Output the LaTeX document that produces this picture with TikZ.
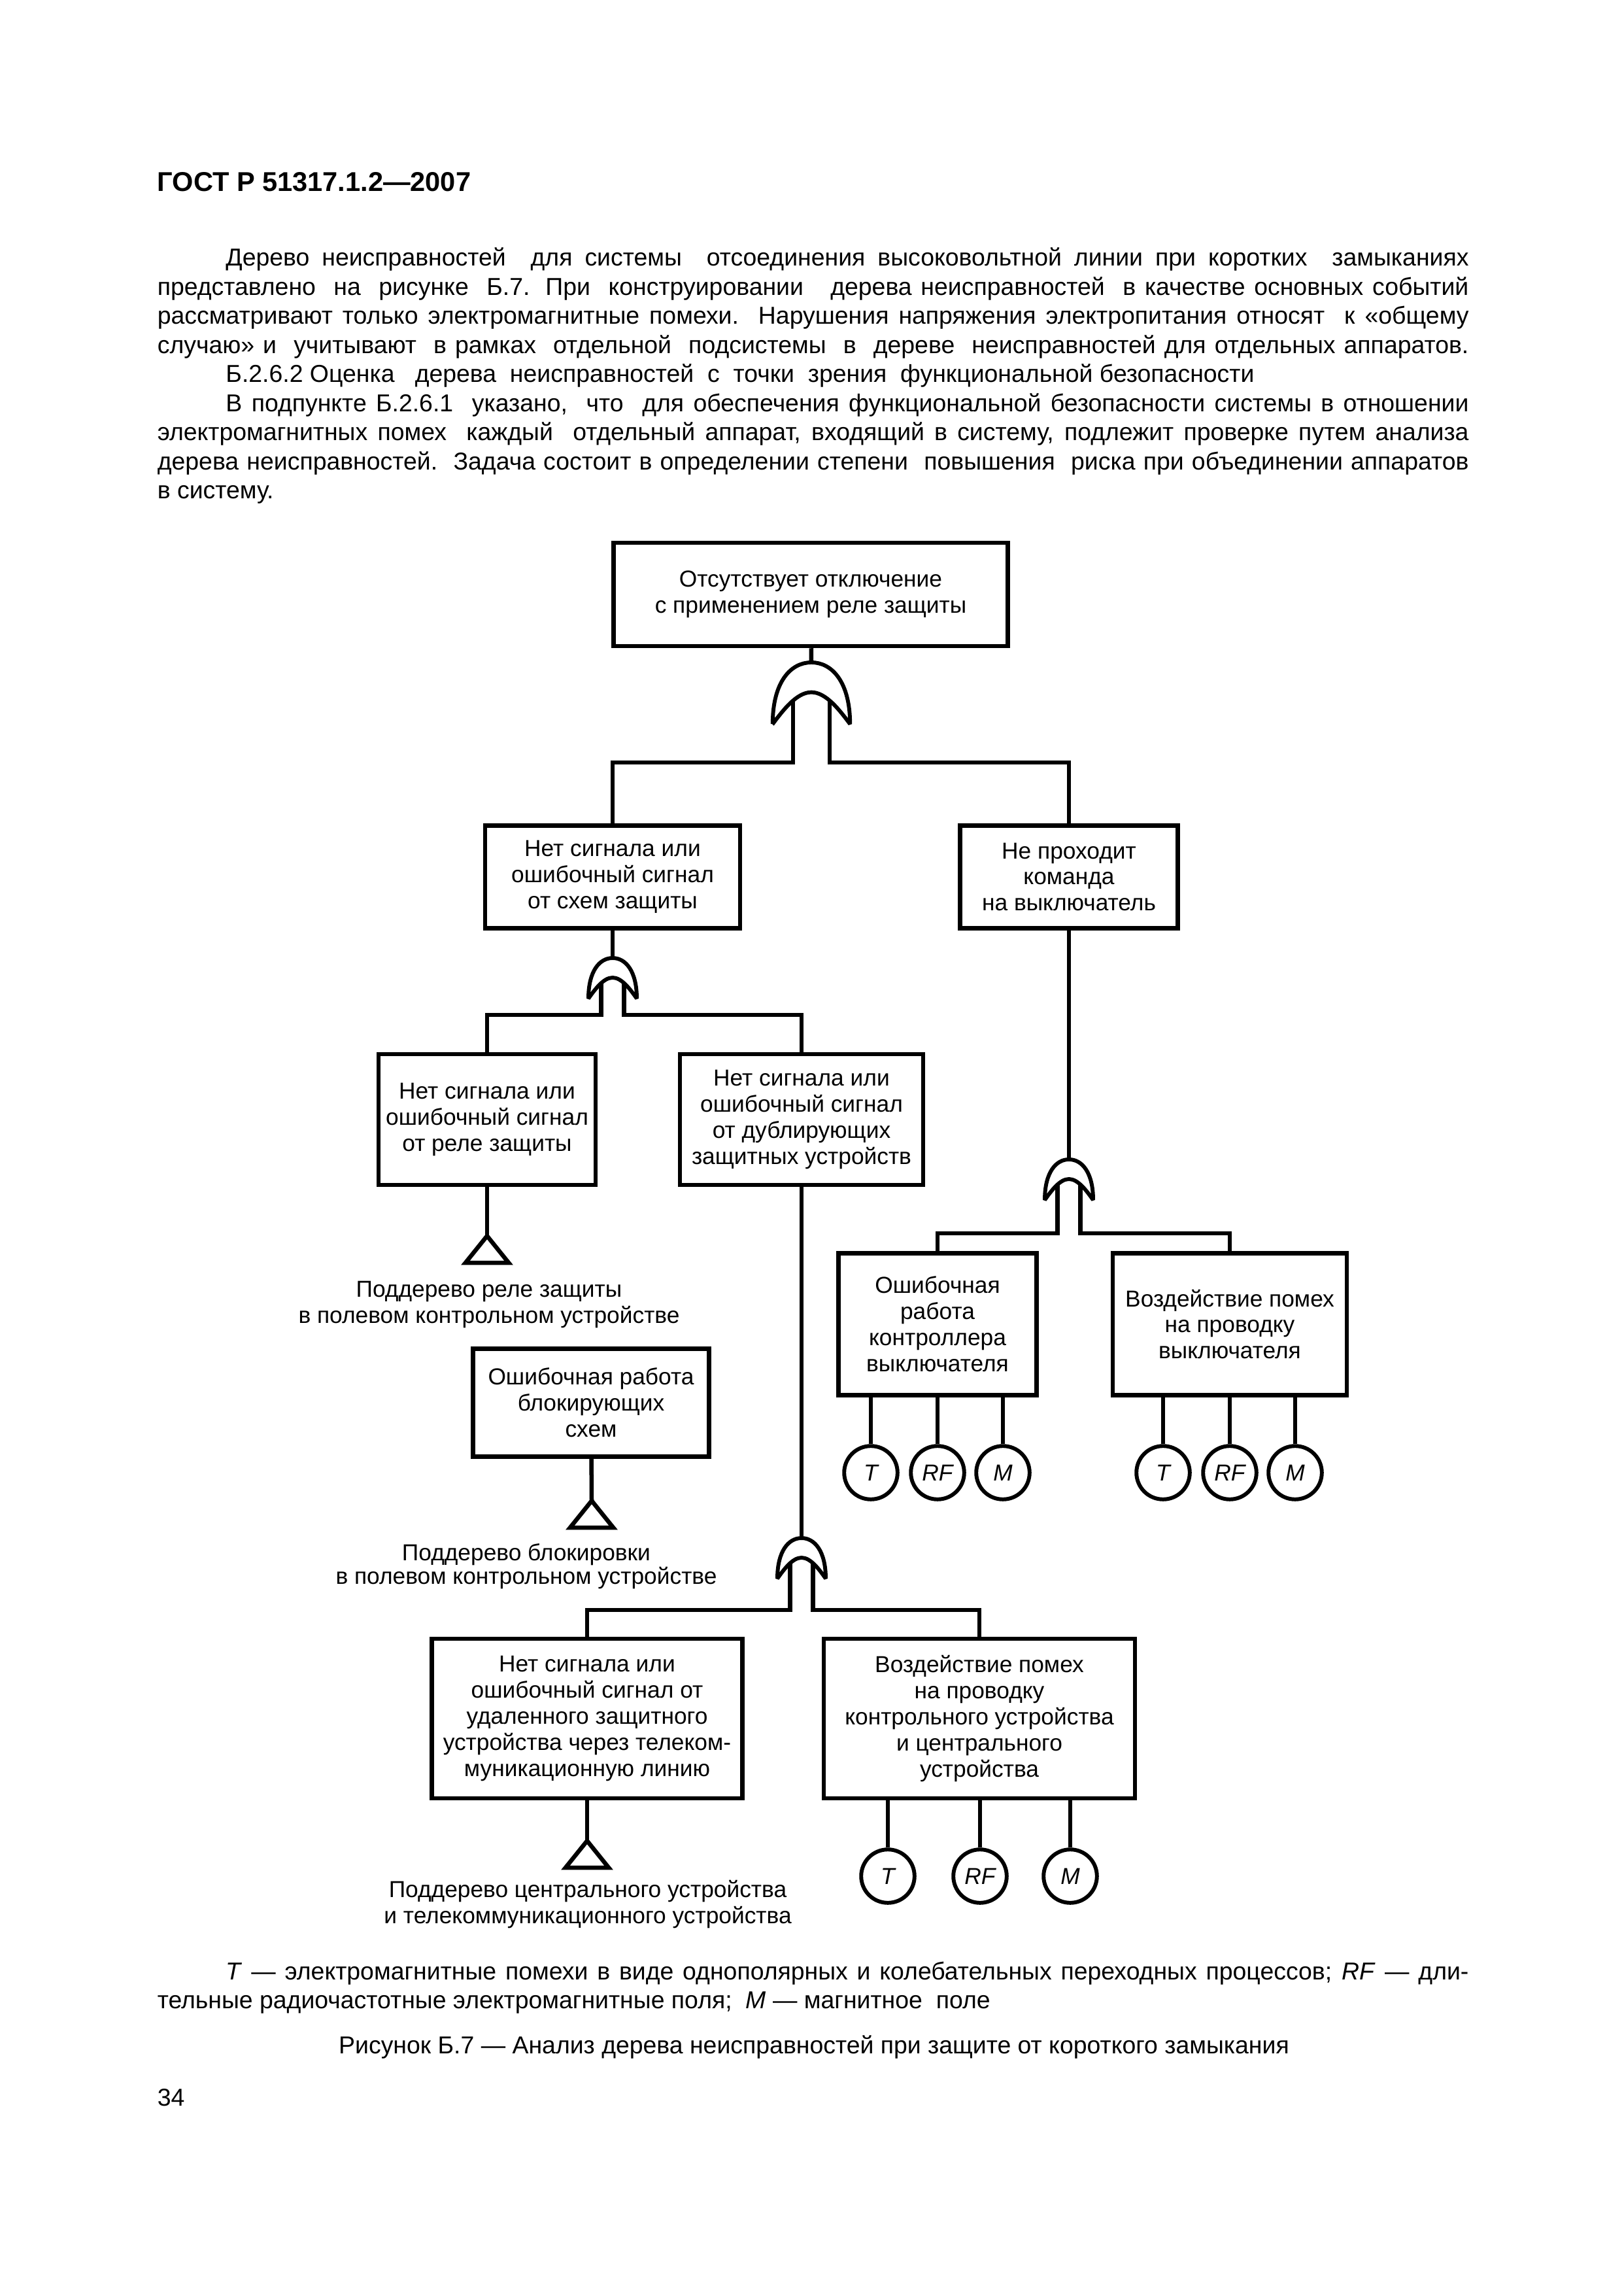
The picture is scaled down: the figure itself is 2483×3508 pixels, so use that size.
\documentclass[tikz,border=0pt]{standalone}
\usepackage{fontspec}
\setmainfont{Liberation Sans}
\hyphenpenalty=10000
\exhyphenpenalty=10000
\tolerance=10000
\newcommand\dgfont{\fontsize{8.5}{9.6}\selectfont}
\newcommand\txtfont{\fontsize{9}{10.7}\selectfont}
\newcommand\ind{\hspace*{8.85mm}}
\tikzset{
  box/.style={draw, line width=0.55mm, align=center, inner sep=0pt, font=\dgfont},
  wire/.style={line width=0.55mm},
  basic/.style={draw, circle, line width=0.5mm, minimum size=6.9mm, inner sep=0pt, font=\dgfont\itshape},
  lbl/.style={align=center, font=\dgfont},
  body/.style={text width=169.6mm, align=justify, inner sep=0pt, font=\txtfont},
  orgate/.pic={
    \draw[line width=0.5mm, line join=bevel] (-37,62) .. controls (-37,20) and (-20,0) .. (0,0)
      .. controls (20,0) and (37,20) .. (37,62)
      .. controls (27,48) and (14,30) .. (0,30)
      .. controls (-14,30) and (-27,48) .. cycle;
    \coordinate (-top) at (0,0);
    \coordinate (-l) at (-17.5,39);
    \coordinate (-r) at (17.5,39);
  },
  subtree/.pic={
    \draw[wire, line join=miter] (0,0) -- (-33,41) -- (33,41) -- cycle;
    \coordinate (-top) at (0,0);
  },
}

\begin{document}
\begin{tikzpicture}[x=0.08457mm,y=-0.08457mm]
\fill[white] (0,0) rectangle (2483,3508);

\node[anchor=base west, inner sep=0pt, font=\fontsize{10}{12}\selectfont\bfseries] (head) at (240,293) {ГОСТ Р 51317.1.2—2007};

\node[body, anchor=base west] (intro) at (240,407) {%
\ind Дерево неисправностей\ \ для системы\ \ отсоединения высоковольтной линии при коротких\ \ замыканиях\linebreak
представлено\ \ на\ \ рисунке\ \ Б.7. При\ \ конструировании\ \ \ дерева неисправностей\ \ в качестве основных событий\linebreak
рассматривают только электромагнитные помехи.\ \ Нарушения напряжения электропитания относят\ \ к «общему\linebreak
случаю» и\ \ учитывают\ \ в рамках\ \ отдельной\ \ подсистемы\ \ в\ \ дереве\ \ неисправностей для отдельных аппаратов.{\parfillskip=0pt\par}
\ind Б.2.6.2 Оценка\ \ \ дерева\ \ неисправностей\ \ с\ \ точки\ \ зрения\ \ функциональной безопасности\par
\ind В подпункте Б.2.6.1\ \ указано,\ \ что\ \ для обеспечения функциональной безопасности системы в отношении\linebreak
электромагнитных помех\ \ каждый\ \ отдельный аппарат, входящий в систему, подлежит проверке путем анализа\linebreak
дерева неисправностей.\ \ Задача состоит в определении степени\ \ повышения\ \ риска при объединении аппаратов\linebreak
в систему.};

\node[box, minimum width=51mm, minimum height=13.36mm] (root) at (1240,909) {Отсутствует отключение\\с применением реле защиты};
\node[box, minimum width=33mm, minimum height=13.28mm] (prot) at (937,1341) {Нет сигнала или\\ошибочный сигнал\\от схем защиты};
\node[box, minimum width=28.16mm, minimum height=13.28mm] (cmd) at (1635,1341) {Не проходит\\команда\\на выключатель};
\node[box, minimum width=28.08mm, minimum height=16.91mm] (relay) at (745,1712) {Нет сигнала или\\ошибочный сигнал\\от реле защиты};
\node[box, minimum width=31.46mm, minimum height=16.91mm] (dupl) at (1226,1712) {Нет сигнала или\\ошибочный сигнал\\от дублирующих\\защитных устройств};
\node[box, minimum width=30.53mm, minimum height=13.95mm] (block) at (904,2145) {Ошибочная работа\\блокирующих\\схем};
\node[box, minimum width=25.62mm, minimum height=18.35mm] (ctrl) at (1434,2025) {Ошибочная\\работа\\контроллера\\выключателя};
\node[box, minimum width=30.28mm, minimum height=18.35mm] (wiring) at (1881,2025) {Воздействие помех\\на проводку\\выключателя};
\node[box, minimum width=40.17mm, minimum height=20.63mm] (remote) at (898,2628) {Нет сигнала или\\ошибочный сигнал от\\удаленного защитного\\устройства через телеком-\\муникационную линию};
\node[box, minimum width=40.26mm, minimum height=20.63mm] (cwire) at (1498,2628) {Воздействие помех\\на проводку\\контрольного устройства\\и центрального\\устройства};

\pic[xscale=1.6, yscale=1.52] (g1) at (1241,1013) {orgate};
\pic (g2) at (937,1465) {orgate};
\pic (g3) at (1635,1773) {orgate};
\pic (g4) at (1226,2352) {orgate};

\pic (stC) at (745,1890) {subtree};
\pic (stE) at (905,2295) {subtree};
\pic (stF) at (898,2815) {subtree};

\coordinate (h1) at (0,1166);
\coordinate (h2) at (0,1552);
\coordinate (h3) at (0,1886);
\coordinate (h4) at (0,2462);

\draw[wire] (root) -- (g1-top);
\draw[wire] (g1-l) -- (g1-l |- h1) -| (prot.north);
\draw[wire] (g1-r) -- (g1-r |- h1) -| (cmd.north);
\draw[wire] (prot) -- (g2-top);
\draw[wire] (g2-l) -- (g2-l |- h2) -| (relay.north);
\draw[wire] (g2-r) -- (g2-r |- h2) -| (dupl.north);
\draw[wire] (cmd) -- (g3-top);
\draw[wire] (g3-l) -- (g3-l |- h3) -| (ctrl.north);
\draw[wire] (g3-r) -- (g3-r |- h3) -| (wiring.north);
\draw[wire] (dupl) -- (g4-top);
\draw[wire] (g4-l) -- (g4-l |- h4) -| (remote.north);
\draw[wire] (g4-r) -- (g4-r |- h4) -| (cwire.north);
\draw[wire] (relay) -- (stC-top);
\draw[wire] (block) -- (stE-top);
\draw[wire] (remote) -- (stF-top);

\node[lbl] (stC-txt) at (748,1995) {Поддерево реле защиты\\в полевом контрольном устройстве};
\node[lbl, font=\fontsize{8.5}{8.7}\selectfont] (stE-txt) at (805,2395) {Поддерево блокировки\\в полевом контрольном устройстве};
\node[lbl] (stF-txt) at (899,2912) {Поддерево центрального устройства\\и телекоммуникационного устройства};

\foreach \x/\lab in {1332/T,1434/RF,1534/M} {
  \node[basic] (ctrl-\lab) at (\x,2252) {\lab};
  \draw[wire] (ctrl-\lab) -- (ctrl-\lab |- ctrl.south);
}
\foreach \x/\lab in {1779/T,1881/RF,1981/M} {
  \node[basic] (wiring-\lab) at (\x,2252) {\lab};
  \draw[wire] (wiring-\lab) -- (wiring-\lab |- wiring.south);
}
\foreach \x/\lab in {1358/T,1499/RF,1637/M} {
  \node[basic] (cwire-\lab) at (\x,2869) {\lab};
  \draw[wire] (cwire-\lab) -- (cwire-\lab |- cwire.south);
}

\node[body, anchor=base west] (legend) at (240,3027) {%
\ind\textit{T} — электромагнитные помехи в виде однополярных и колебательных переходных процессов; \textit{RF} — дли-\linebreak
тельные радиочастотные электромагнитные поля;\ \ \textit{M} — магнитное\ \ поле};
\node[anchor=base, inner sep=0pt, font=\txtfont] (caption) at (1245,3140) {Рисунок Б.7 — Анализ дерева неисправностей при защите от короткого замыкания};
\node[anchor=base west, inner sep=0pt, font=\txtfont] (pagenum) at (240,3220) {34};
\end{tikzpicture}
\end{document}
